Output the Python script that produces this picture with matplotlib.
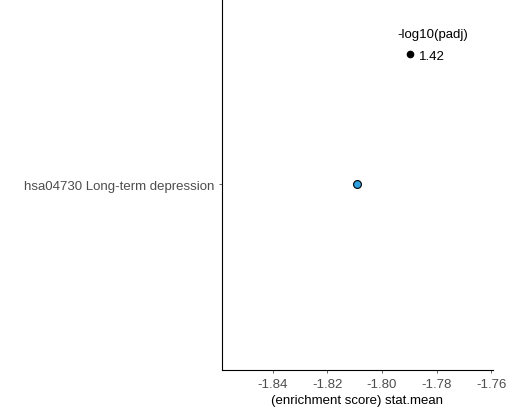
import matplotlib.pyplot as plt
from matplotlib.lines import Line2D

# data
pathways = ['hsa04730 Long-term depression']
stat_mean = [-1.809]
neg_log_padj = [1.42]
x_ticks = [-1.84, -1.82, -1.80, -1.78, -1.76]

plt.rcParams['font.family'] = ['Liberation Sans', 'DejaVu Sans']

fig = plt.figure(figsize=(5.1, 4.14), dpi=100)
ax = fig.add_axes([0.4347, 0.104, 0.532, 0.896])

ax.scatter(stat_mean, [0], s=32, c='#2E9FDF', edgecolors='black', linewidths=0.8, zorder=3)

ax.set_xlim(-1.8588, -1.7593)
ax.set_ylim(-0.5, 0.5)
ax.set_xticks(x_ticks)
ax.set_xticklabels([f'{v:.2f}' for v in x_ticks])
ax.set_yticks([0])
ax.set_yticklabels(pathways)
ax.tick_params(colors='#4D4D4D', labelsize=9.5, length=2.5, width=0.6, pad=3)
ax.set_xlabel('(enrichment score) stat.mean', fontsize=9.5, labelpad=3)

for s in ['top', 'right']:
    ax.spines[s].set_visible(False)
for s in ['left', 'bottom']:
    ax.spines[s].set_linewidth(0.8)

fig.text(397 / 510, 1 - 35 / 414, '-log10(padj)', fontsize=9.5, va='center', ha='left')
handle = Line2D([], [], marker='o', color='black', linestyle='none', markersize=4.5)
fig.legend([handle], [f'{neg_log_padj[0]:.2f}'], loc='center left',
           bbox_to_anchor=(397 / 510, 1 - 57 / 414), frameon=False,
           fontsize=9.5, handlelength=2, handletextpad=-0.35, borderpad=0, borderaxespad=0)

fig.savefig('out.png', dpi=100)
